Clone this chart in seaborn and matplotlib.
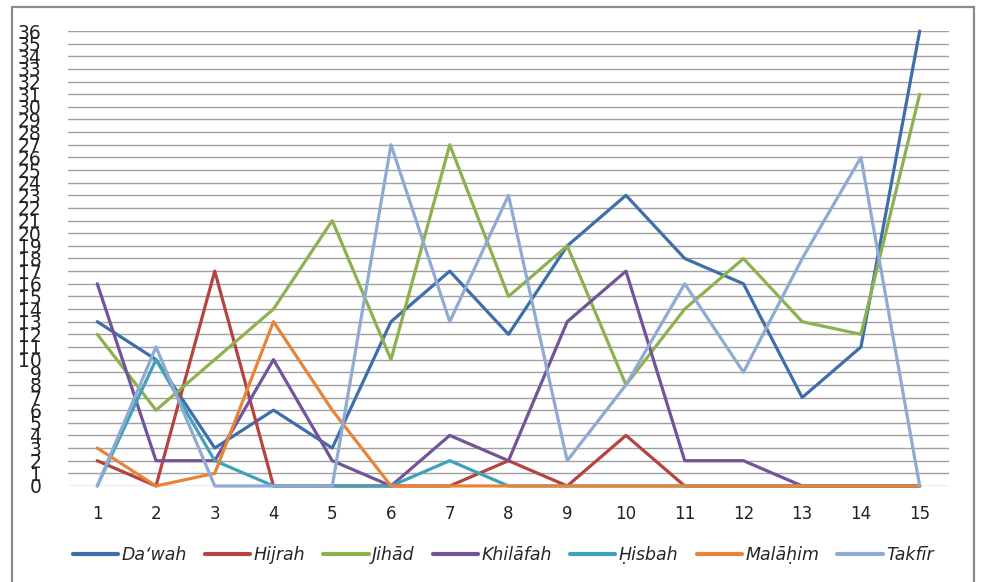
import pandas as pd
import matplotlib.pyplot as plt
import seaborn as sns
from matplotlib.patches import Rectangle

# values, one list per theme
periods = list(range(1, 16))
dawah    = [13, 10, 3, 6, 3, 13, 17, 12, 19, 23, 18, 16, 7, 11, 36]
hijrah   = [2, 0, 17, 0, 0, 0, 0, 2, 0, 4, 0, 0, 0, 0, 0]
jihad    = [12, 6, 10, 14, 21, 10, 27, 15, 19, 8, 14, 18, 13, 12, 31]
khilafah = [16, 2, 2, 10, 2, 0, 4, 2, 13, 17, 2, 2, 0, 0, 0]
hisbah   = [0, 10, 2, 0, 0, 0, 2, 0, 0, 0, 0, 0, 0, 0, 0]
malahim  = [3, 0, 1, 13, 6, 0, 0, 0, 0, 0, 0, 0, 0, 0, 0]
takfir   = [0, 11, 0, 0, 0, 27, 13, 23, 2, 8, 16, 9, 18, 26, 0]

names = ["Da\u2018wah", "Hijrah", "Jih\u0101d", "Khil\u0101fah",
         "\u1e24isbah", "Mal\u0101\u1e25im", "Takf\u012br"]
series = [dawah, hijrah, jihad, khilafah, hisbah, malahim, takfir]
colors = ["#3F6FAA", "#B5433F", "#8DB14F", "#725499",
          "#3FA2B8", "#E6843A", "#8FAAD3"]

df = pd.DataFrame({
    "period": periods * len(names),
    "count": sum(series, []),
    "theme": [n for n in names for _ in periods],
})

sns.set_style("white")
plt.rcParams["font.family"] = ["DejaVu Sans"]

fig = plt.figure(figsize=(9.84, 5.82), dpi=100)
ax = fig.add_axes([0.069, 0.165, 0.8955, 0.7817])

# outer chart frame
fig.patches.append(Rectangle((12 / 984, -0.02), (974 - 12) / 984, 1 - 7 / 582 + 0.02,
                             transform=fig.transFigure, fill=False,
                             edgecolor="#8a8a8a", linewidth=1.6))

sns.lineplot(data=df, x="period", y="count", hue="theme", palette=colors,
             linewidth=2.3, ax=ax, clip_on=False, zorder=3)

ax.set_xlim(0.5, 15.5)
ax.set_ylim(0, 36)
ax.set_xticks(periods)
ax.set_yticks(range(0, 37))
ax.yaxis.grid(True, color="#a0a0a0", linewidth=1.0)
ax.xaxis.grid(False)
ax.set_axisbelow(True)
for s in ax.spines.values():
    s.set_visible(False)
ax.tick_params(axis="y", length=0, pad=19, labelsize=13.5, labelcolor="#222222")
ax.tick_params(axis="x", length=0, pad=14, labelsize=12, labelcolor="#222222")
ax.set_xlabel("")
ax.set_ylabel("")

ax.legend(loc="upper center", bbox_to_anchor=(0.494, -0.097), ncol=7,
          frameon=False, handlelength=2.6, handletextpad=0.2, columnspacing=1.05,
          prop={"style": "italic", "size": 12.5})
for line in ax.get_legend().get_lines():
    line.set_linewidth(3)

fig.savefig("out.png", dpi=100)
